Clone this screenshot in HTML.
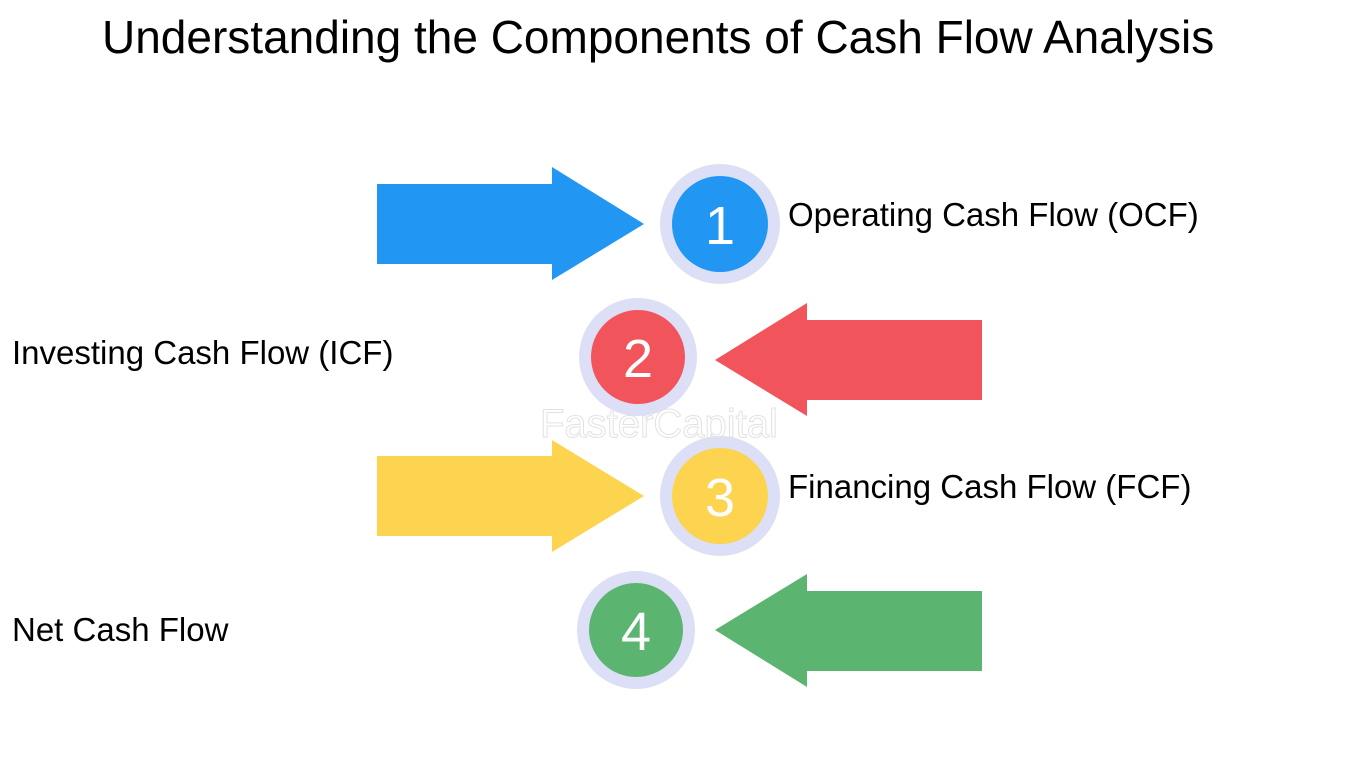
<!DOCTYPE html>
<html><head><style>
body{margin:0;width:1359px;height:759px;background:#fff;overflow:hidden;position:relative;font-family:"Liberation Sans",Arial,sans-serif}
.t{position:absolute;white-space:nowrap;color:#000}
</style></head><body>
<div class="t" style="left:102px;top:10px;font-size:46px;">Understanding the Components of Cash Flow Analysis</div>
<svg width="1359" height="759" style="position:absolute;left:0;top:0">
<polygon points="377,184 552,184 552,167 644,224 552,280 552,264 377,264" fill="#2196F3"/>
<polygon points="982,320 807,320 807,303 715,360 807,416 807,400 982,400" fill="#F2545B"/>
<polygon points="377,456 552,456 552,440 644,496 552,552 552,536 377,536" fill="#FDD44F"/>
<polygon points="982,591 807,591 807,574 715,630 807,687 807,671 982,671" fill="#5BB571"/>
<g fill="#DCDFF5">
<circle cx="720" cy="224" r="60"/><circle cx="638" cy="357" r="59"/>
<circle cx="720" cy="496" r="60"/><circle cx="636" cy="630" r="59"/>
</g>
<circle cx="720" cy="224" r="48" fill="#2196F3"/>
<circle cx="638" cy="357" r="47" fill="#F2545B"/>
<circle cx="720" cy="496" r="48" fill="#FDD44F"/>
<circle cx="636" cy="630" r="47" fill="#5BB571"/>
<g fill="#fff" font-family="Liberation Sans, sans-serif" font-size="54" text-anchor="middle">
<text x="720" y="244">1</text><text x="638" y="377">2</text>
<text x="720" y="516">3</text><text x="636" y="650">4</text>
</g>
<text x="540" y="437" font-size="40" fill="none" stroke="#e2e2e2" font-family="Liberation Sans, sans-serif">FasterCapital</text>
</svg>
<div class="t" style="left:788px;top:196px;font-size:33px;">Operating Cash Flow (OCF)</div>
<div class="t" style="left:12px;top:334px;font-size:33px;">Investing Cash Flow (ICF)</div>
<div class="t" style="left:788px;top:468px;font-size:33px;">Financing Cash Flow (FCF)</div>
<div class="t" style="left:12px;top:611px;font-size:33px;">Net Cash Flow</div>
</body></html>
